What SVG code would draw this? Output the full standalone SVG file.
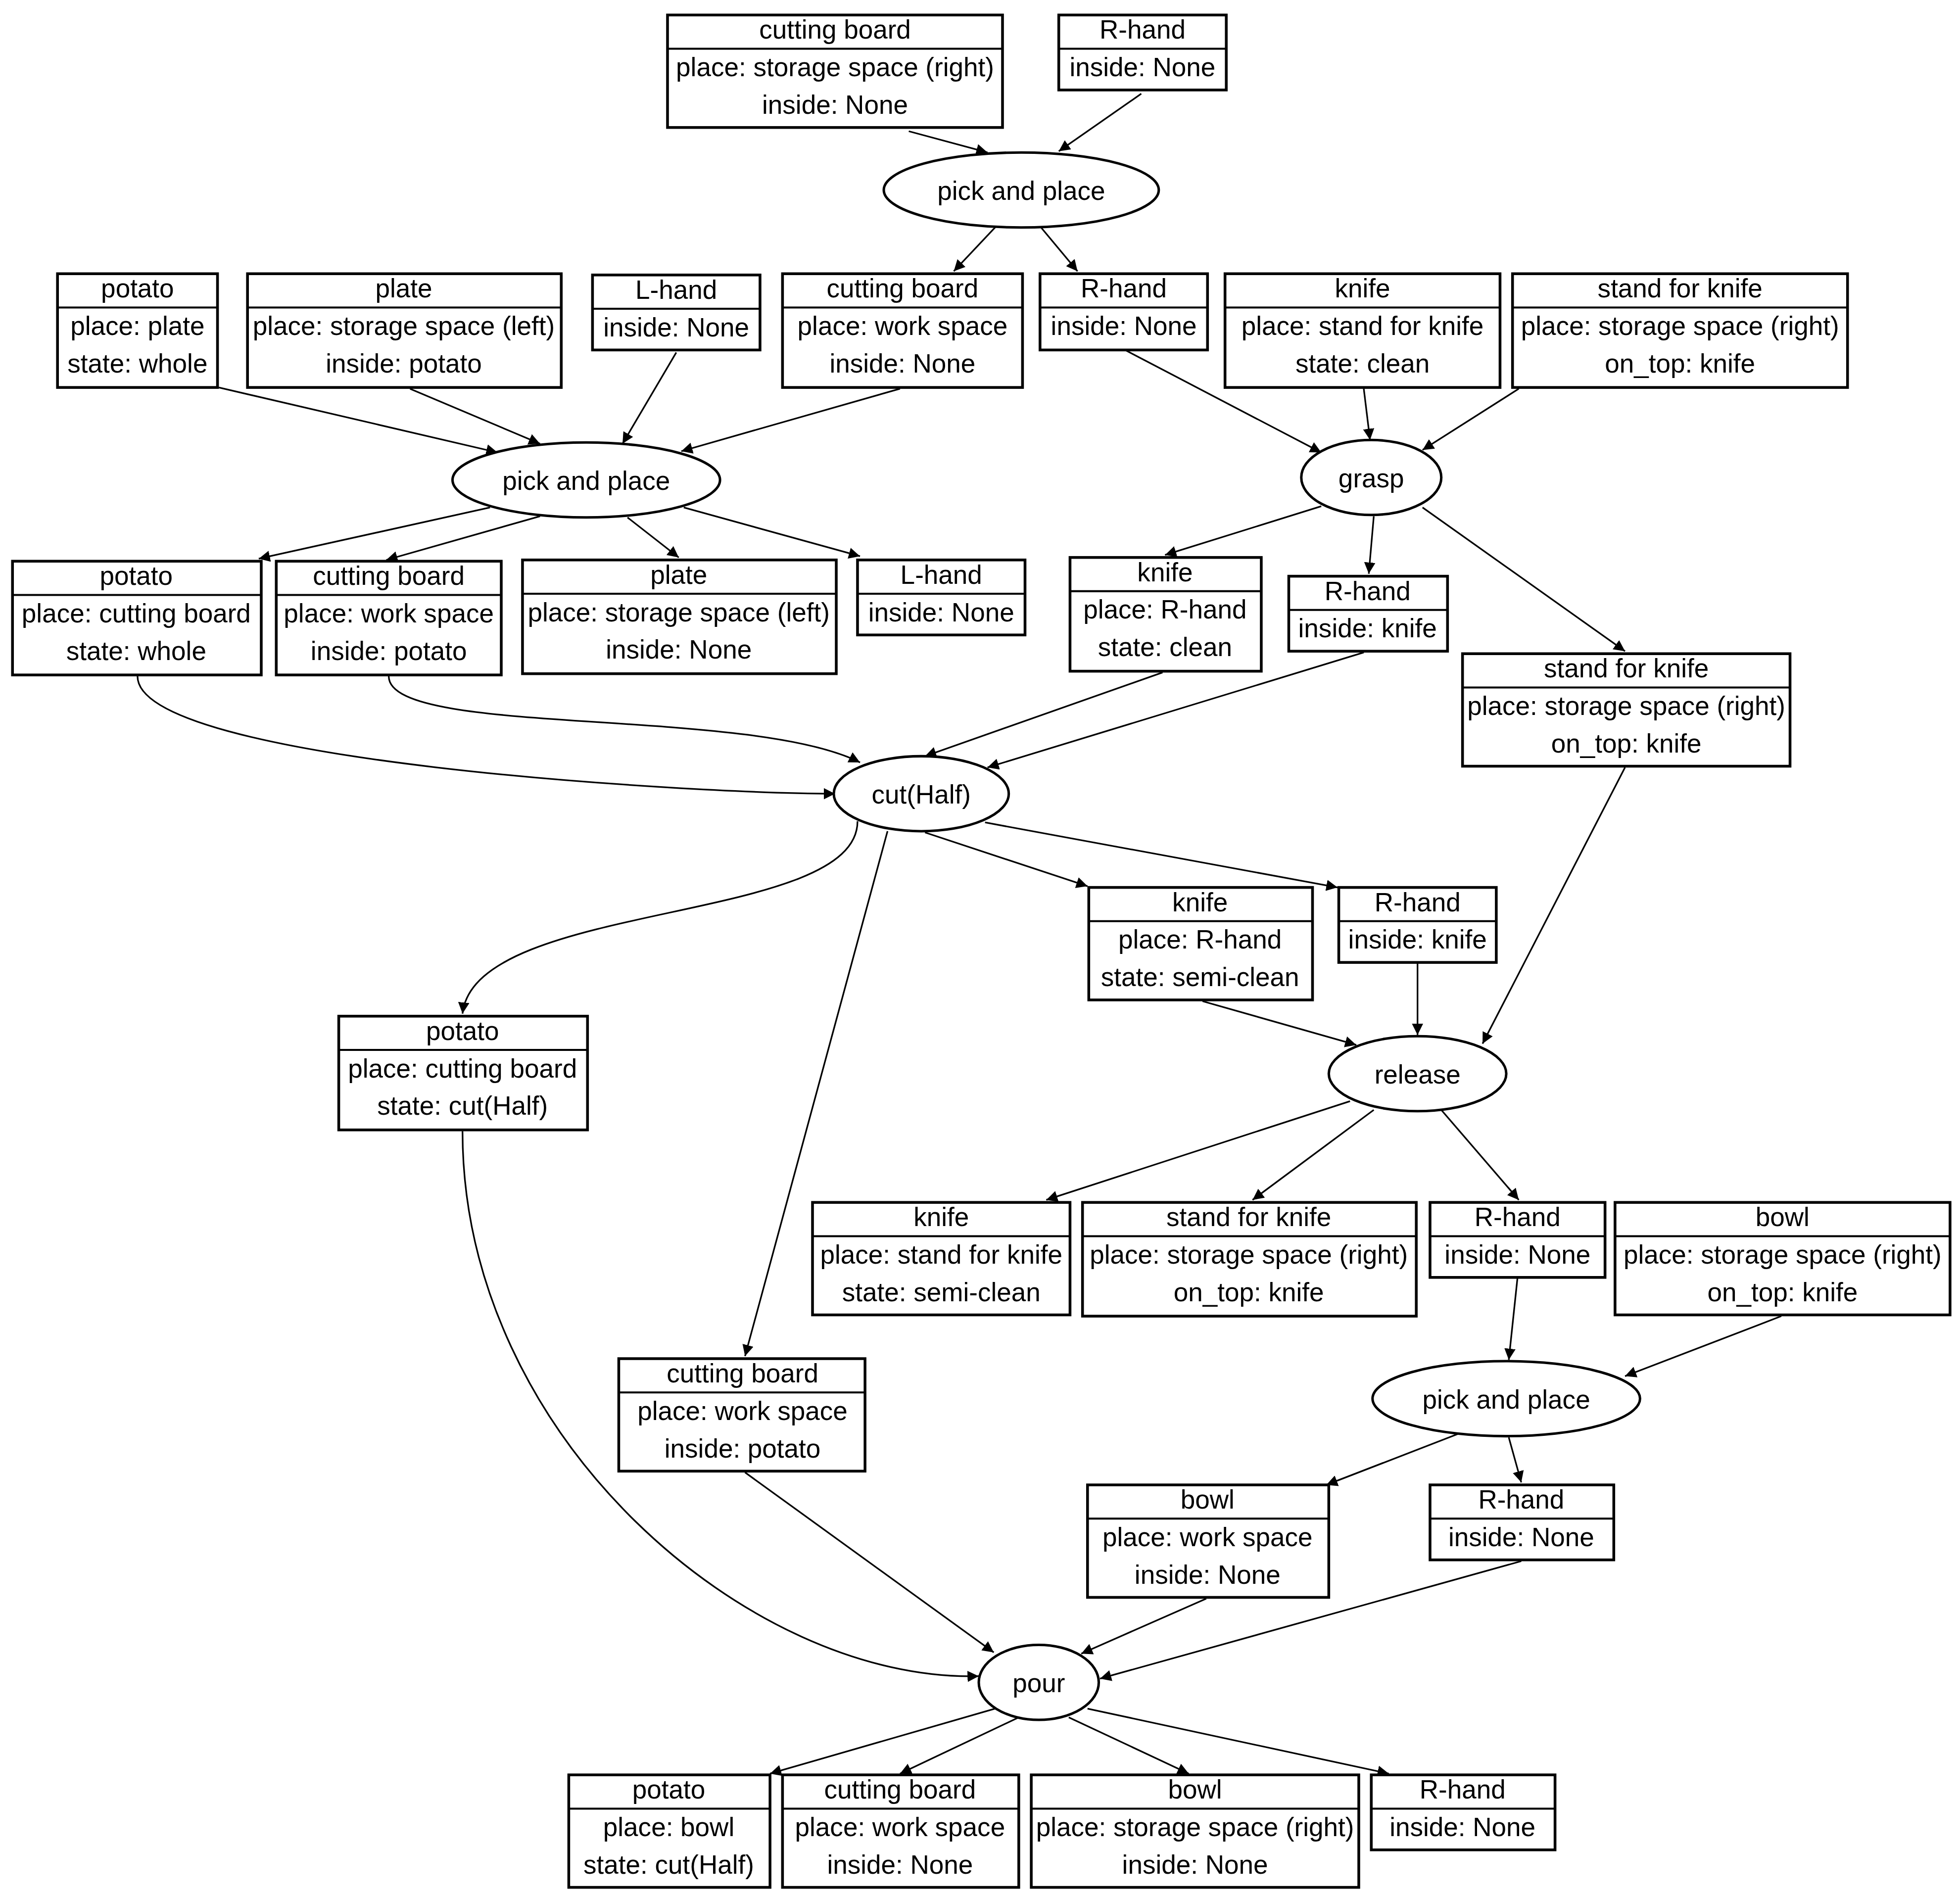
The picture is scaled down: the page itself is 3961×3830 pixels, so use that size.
<svg xmlns="http://www.w3.org/2000/svg" width="3961" height="3830" viewBox="0 0 3961 3830">
<style>
.b rect{fill:#fff;stroke:#000;stroke-width:2.2}
.b line{stroke:#000;stroke-width:1.6}
text{font-family:"Liberation Sans",Arial,sans-serif;font-size:21px;text-anchor:middle;fill:#000}
ellipse{fill:#fff;stroke:#000;stroke-width:2}
#edges path{fill:none;stroke:#000;stroke-width:1.3;marker-end:url(#ah)}
</style>
<defs><marker id="ah" viewBox="0 0 10 10" refX="10" refY="5" markerWidth="9" markerHeight="9" markerUnits="userSpaceOnUse" orient="auto"><path d="M0,0L10,5L0,10z" fill="#000"/></marker></defs>
<rect width="3961" height="3830" fill="#fff"/>
<g transform="scale(2.5262)">
<g id="edges">
<path d="M727,105L790,122"/><path d="M913,75L847,121"/>
<path d="M797,181L763,217"/><path d="M832,181L862,217"/>
<path d="M175,310L398,362"/><path d="M328,311L432,355"/><path d="M541,282L498,355"/><path d="M720,311L545,361"/>
<path d="M900,280L1057,362"/><path d="M1091,311L1096,352"/><path d="M1215,311L1138,360"/>
<path d="M392,406L207,447"/><path d="M432,413L309,448"/><path d="M502,414L543,446"/><path d="M547,406L688,445"/>
<path d="M1057,405L932,444"/><path d="M1099,413L1095,459"/><path d="M1138,406L1300,521"/>
<path d="M110,541C110,610 560,635 668,635"/><path d="M311,541C311,590 600,565 688,610"/>
<path d="M930,538L740,605"/><path d="M1091,522L790,614"/>
<path d="M686,657C686,740 380,720 370,811"/><path d="M710,665L596,1085"/>
<path d="M740,666L870,709"/><path d="M788,658L1070,710"/>
<path d="M962,801L1085,836"/><path d="M1134,771L1134,828"/><path d="M1300,614L1186,835"/>
<path d="M1080,881L837,960"/><path d="M1099,888L1002,960"/><path d="M1153,888L1215,960"/>
<path d="M1214,1022L1207,1088"/><path d="M1425,1053L1300,1101"/>
<path d="M1167,1147L1061,1188"/><path d="M1207,1150L1217,1186"/>
<path d="M370,905C370,1150 600,1346 783,1341"/><path d="M596,1178L795,1322"/><path d="M965,1279L865,1323"/><path d="M1217,1249L880,1343"/>
<path d="M796,1367L616,1419"/><path d="M815,1374L720,1419"/><path d="M855,1374L951,1419"/><path d="M870,1367L1111,1419"/>
</g>
<g id="e1"><ellipse cx="817" cy="152" rx="110" ry="30"/><text x="817" y="160">pick and place</text></g>
<g id="e2"><ellipse cx="469" cy="384" rx="107" ry="30"/><text x="469" y="392">pick and place</text></g>
<g id="e3"><ellipse cx="1097" cy="382" rx="56" ry="30"/><text x="1097" y="390">grasp</text></g>
<g id="e4"><ellipse cx="737" cy="635" rx="70" ry="30"/><text x="737" y="643">cut(Half)</text></g>
<g id="e5"><ellipse cx="1134" cy="859" rx="71" ry="30"/><text x="1134" y="867">release</text></g>
<g id="e6"><ellipse cx="1205" cy="1119" rx="107" ry="30"/><text x="1205" y="1127">pick and place</text></g>
<g id="e7"><ellipse cx="831" cy="1346" rx="48" ry="30"/><text x="831" y="1354">pour</text></g>

<g id="n1" class="b"><rect x="534" y="12" width="268" height="90"/><line x1="534" y1="39" x2="802" y2="39"/><text x="668" y="31">cutting board</text><text x="668" y="61">place: storage space (right)</text><text x="668" y="91">inside: None</text></g>
<g id="n2" class="b"><rect x="847" y="12" width="134" height="60"/><line x1="847" y1="39" x2="981" y2="39"/><text x="914" y="31">R-hand</text><text x="914" y="61">inside: None</text></g>
<g id="n3" class="b"><rect x="46" y="219" width="128" height="91"/><line x1="46" y1="246" x2="174" y2="246"/><text x="110" y="238">potato</text><text x="110" y="268">place: plate</text><text x="110" y="298">state: whole</text></g>
<g id="n4" class="b"><rect x="198" y="219" width="251" height="91"/><line x1="198" y1="246" x2="449" y2="246"/><text x="323" y="238">plate</text><text x="323" y="268">place: storage space (left)</text><text x="323" y="298">inside: potato</text></g>
<g id="n5" class="b"><rect x="474" y="220" width="134" height="60"/><line x1="474" y1="247" x2="608" y2="247"/><text x="541" y="239">L-hand</text><text x="541" y="269">inside: None</text></g>
<g id="n6" class="b"><rect x="626" y="219" width="192" height="91"/><line x1="626" y1="246" x2="818" y2="246"/><text x="722" y="238">cutting board</text><text x="722" y="268">place: work space</text><text x="722" y="298">inside: None</text></g>
<g id="n7" class="b"><rect x="832" y="219" width="134" height="61"/><line x1="832" y1="246" x2="966" y2="246"/><text x="899" y="238">R-hand</text><text x="899" y="268">inside: None</text></g>
<g id="n8" class="b"><rect x="980" y="219" width="220" height="91"/><line x1="980" y1="246" x2="1200" y2="246"/><text x="1090" y="238">knife</text><text x="1090" y="268">place: stand for knife</text><text x="1090" y="298">state: clean</text></g>
<g id="n9" class="b"><rect x="1210" y="219" width="268" height="91"/><line x1="1210" y1="246" x2="1478" y2="246"/><text x="1344" y="238">stand for knife</text><text x="1344" y="268">place: storage space (right)</text><text x="1344" y="298">on_top: knife</text></g>
<g id="n10" class="b"><rect x="10" y="449" width="199" height="91"/><line x1="10" y1="476" x2="209" y2="476"/><text x="109" y="468">potato</text><text x="109" y="498">place: cutting board</text><text x="109" y="528">state: whole</text></g>
<g id="n11" class="b"><rect x="221" y="449" width="180" height="91"/><line x1="221" y1="476" x2="401" y2="476"/><text x="311" y="468">cutting board</text><text x="311" y="498">place: work space</text><text x="311" y="528">inside: potato</text></g>
<g id="n12" class="b"><rect x="418" y="448" width="251" height="91"/><line x1="418" y1="475" x2="669" y2="475"/><text x="543" y="467">plate</text><text x="543" y="497">place: storage space (left)</text><text x="543" y="527">inside: None</text></g>
<g id="n13" class="b"><rect x="686" y="448" width="134" height="60"/><line x1="686" y1="475" x2="820" y2="475"/><text x="753" y="467">L-hand</text><text x="753" y="497">inside: None</text></g>
<g id="n14" class="b"><rect x="856" y="446" width="153" height="91"/><line x1="856" y1="473" x2="1009" y2="473"/><text x="932" y="465">knife</text><text x="932" y="495">place: R-hand</text><text x="932" y="525">state: clean</text></g>
<g id="n15" class="b"><rect x="1031" y="461" width="127" height="60"/><line x1="1031" y1="488" x2="1158" y2="488"/><text x="1094" y="480">R-hand</text><text x="1094" y="510">inside: knife</text></g>
<g id="n16" class="b"><rect x="1170" y="523" width="262" height="90"/><line x1="1170" y1="550" x2="1432" y2="550"/><text x="1301" y="542">stand for knife</text><text x="1301" y="572">place: storage space (right)</text><text x="1301" y="602">on_top: knife</text></g>
<g id="n17" class="b"><rect x="871" y="710" width="179" height="90"/><line x1="871" y1="737" x2="1050" y2="737"/><text x="960" y="729">knife</text><text x="960" y="759">place: R-hand</text><text x="960" y="789">state: semi-clean</text></g>
<g id="n18" class="b"><rect x="1071" y="710" width="126" height="60"/><line x1="1071" y1="737" x2="1197" y2="737"/><text x="1134" y="729">R-hand</text><text x="1134" y="759">inside: knife</text></g>
<g id="n19" class="b"><rect x="271" y="813" width="199" height="91"/><line x1="271" y1="840" x2="470" y2="840"/><text x="370" y="832">potato</text><text x="370" y="862">place: cutting board</text><text x="370" y="892">state: cut(Half)</text></g>
<g id="n20" class="b"><rect x="650" y="962" width="206" height="90"/><line x1="650" y1="989" x2="856" y2="989"/><text x="753" y="981">knife</text><text x="753" y="1011">place: stand for knife</text><text x="753" y="1041">state: semi-clean</text></g>
<g id="n21" class="b"><rect x="866" y="962" width="267" height="91"/><line x1="866" y1="989" x2="1133" y2="989"/><text x="999" y="981">stand for knife</text><text x="999" y="1011">place: storage space (right)</text><text x="999" y="1041">on_top: knife</text></g>
<g id="n22" class="b"><rect x="1144" y="962" width="140" height="60"/><line x1="1144" y1="989" x2="1284" y2="989"/><text x="1214" y="981">R-hand</text><text x="1214" y="1011">inside: None</text></g>
<g id="n23" class="b"><rect x="1292" y="962" width="268" height="90"/><line x1="1292" y1="989" x2="1560" y2="989"/><text x="1426" y="981">bowl</text><text x="1426" y="1011">place: storage space (right)</text><text x="1426" y="1041">on_top: knife</text></g>
<g id="n24" class="b"><rect x="495" y="1087" width="197" height="90"/><line x1="495" y1="1114" x2="692" y2="1114"/><text x="594" y="1106">cutting board</text><text x="594" y="1136">place: work space</text><text x="594" y="1166">inside: potato</text></g>
<g id="n25" class="b"><rect x="870" y="1188" width="193" height="90"/><line x1="870" y1="1215" x2="1063" y2="1215"/><text x="966" y="1207">bowl</text><text x="966" y="1237">place: work space</text><text x="966" y="1267">inside: None</text></g>
<g id="n26" class="b"><rect x="1144" y="1188" width="147" height="60"/><line x1="1144" y1="1215" x2="1291" y2="1215"/><text x="1217" y="1207">R-hand</text><text x="1217" y="1237">inside: None</text></g>
<g id="n27" class="b"><rect x="455" y="1420" width="161" height="90"/><line x1="455" y1="1447" x2="616" y2="1447"/><text x="535" y="1439">potato</text><text x="535" y="1469">place: bowl</text><text x="535" y="1499">state: cut(Half)</text></g>
<g id="n28" class="b"><rect x="626" y="1420" width="189" height="90"/><line x1="626" y1="1447" x2="815" y2="1447"/><text x="720" y="1439">cutting board</text><text x="720" y="1469">place: work space</text><text x="720" y="1499">inside: None</text></g>
<g id="n29" class="b"><rect x="825" y="1420" width="262" height="90"/><line x1="825" y1="1447" x2="1087" y2="1447"/><text x="956" y="1439">bowl</text><text x="956" y="1469">place: storage space (right)</text><text x="956" y="1499">inside: None</text></g>
<g id="n30" class="b"><rect x="1097" y="1420" width="147" height="60"/><line x1="1097" y1="1447" x2="1244" y2="1447"/><text x="1170" y="1439">R-hand</text><text x="1170" y="1469">inside: None</text></g>
</g>
</svg>
